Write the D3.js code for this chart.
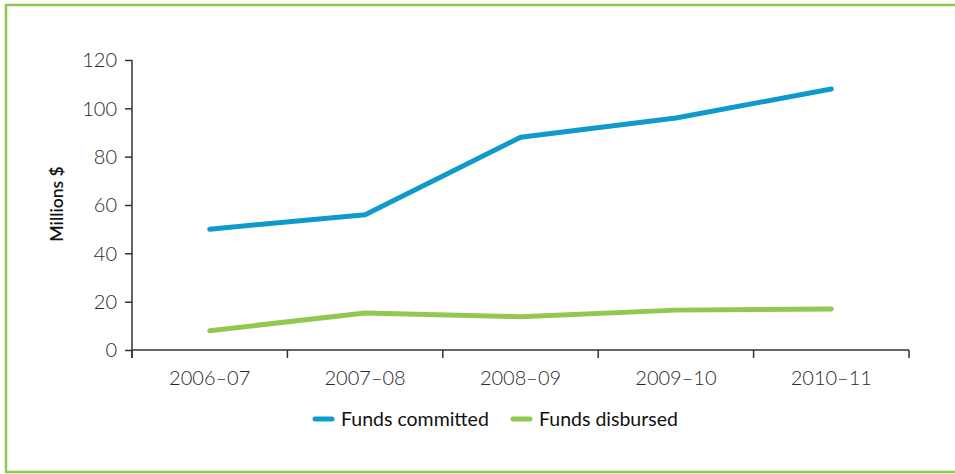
<!DOCTYPE html>
<html>
<head>
<meta charset="utf-8">
<script src="https://cdn.jsdelivr.net/npm/d3@7"></script>
<style>
  html, body { margin: 0; padding: 0; background: #fff; }
  svg { display: block; }
  .tick text { font-family: "Lato", "Open Sans", sans-serif; font-weight: 300; fill: #2a2a2a; }
</style>
</head>
<body>
<svg id="chart" width="955" height="474"></svg>
<script>
// Financial years and the two funding series (millions of dollars)
const years = ["2006–07", "2007–08", "2008–09", "2009–10", "2010–11"];
const fundsCommitted = [50, 56, 88, 96, 108];
const fundsDisbursed = [8, 15.3, 13.8, 16.5, 17];
const yTicks = [0, 20, 40, 60, 80, 100, 120];
const seriesNames = ["Funds committed", "Funds disbursed"];
const seriesColors = ["#0e9bcb", "#92c850"];

const svg = d3.select("#chart");

// Green frame around the figure
svg.append("rect")
  .attr("x", 6).attr("y", 5).attr("width", 960).attr("height", 467)
  .attr("fill", "none").attr("stroke", "#92c850").attr("stroke-width", 2.5);

const plot = { left: 132, right: 909, top: 60, bottom: 350 };

const x = d3.scaleBand().domain(years).range([plot.left, plot.right]);
const y = d3.scaleLinear().domain([0, 120]).range([plot.bottom, plot.top]);

// Y axis
const yAxis = svg.append("g")
  .attr("transform", `translate(${plot.left},0)`)
  .call(d3.axisLeft(y).tickValues(yTicks).tickSize(7).tickPadding(8).tickSizeOuter(0));
yAxis.select(".domain").attr("stroke", "#333").attr("stroke-width", 1.5)
  .attr("d", `M0,${plot.top}V${plot.bottom + 8}`);
yAxis.selectAll(".tick line").attr("stroke", "#333").attr("stroke-width", 1.5);
yAxis.selectAll(".tick text").style("font-size", "20px").attr("dy", "0.34em");

// X axis with ticks at band boundaries
const xAxis = svg.append("g")
  .attr("transform", `translate(0,${plot.bottom})`)
  .call(d3.axisBottom(x).tickSize(0).tickPadding(21));
xAxis.select(".domain").attr("stroke", "#333").attr("stroke-width", 1.5)
  .attr("d", `M${plot.left},0H${plot.right}`);
xAxis.selectAll(".tick text").style("font-size", "20px");
const boundaries = years.map(d => x(d)).concat([x.range()[1]]);
xAxis.selectAll(".bound").data(boundaries).join("line")
  .attr("class", "bound")
  .attr("x1", d => d).attr("x2", d => d)
  .attr("y1", 0).attr("y2", 8)
  .attr("stroke", "#333").attr("stroke-width", 1.5);

// Y axis title
svg.append("text")
  .attr("transform", "translate(63,204) rotate(-90)")
  .attr("text-anchor", "middle")
  .style("font-family", "Lato, 'Open Sans', sans-serif")
  .style("font-size", "17.5px")
  .style("font-weight", 600)
  .attr("fill", "#111")
  .text("Millions $");

// Lines
const line = d3.line()
  .x((d, i) => x(years[i]) + x.bandwidth() / 2)
  .y(d => y(d));

[fundsCommitted, fundsDisbursed].forEach((vals, k) => {
  svg.append("path")
    .datum(vals)
    .attr("d", line)
    .attr("fill", "none")
    .attr("stroke", seriesColors[k])
    .attr("stroke-width", 5)
    .attr("stroke-linecap", "round")
    .attr("stroke-linejoin", "round");
});

// Legend
const legendX = [313, 511];
seriesNames.forEach((name, k) => {
  const g = svg.append("g").attr("transform", `translate(${legendX[k]},419)`);
  g.append("line")
    .attr("x1", 2).attr("x2", 19).attr("y1", 0).attr("y2", 0)
    .attr("stroke", seriesColors[k]).attr("stroke-width", 5)
    .attr("stroke-linecap", "round");
  g.append("text")
    .attr("x", 28).attr("y", 6.5)
    .style("font-family", "Lato, 'Open Sans', sans-serif")
    .style("font-size", "19.5px")
    .attr("fill", "#111")
    .text(name);
});
</script>
</body>
</html>
